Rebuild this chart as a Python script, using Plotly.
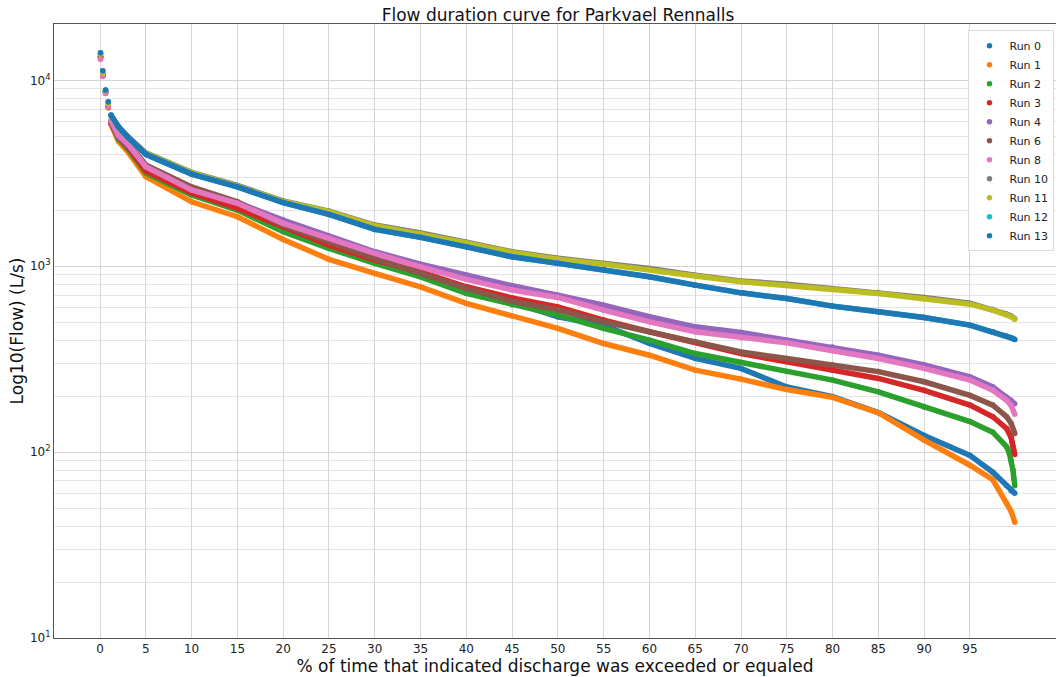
import plotly.graph_objects as go

# Percent of time exceeded (shared main points)
PCT_MAIN = [0.05, 0.3, 0.6, 0.9, 1.2, 2, 3, 5, 10, 15, 20, 25, 30, 35, 40, 45,
            50, 55, 60, 65, 70, 75, 80, 85, 90, 95, 97.5, 99]

RUN_NAMES = ["Run 0", "Run 1", "Run 2", "Run 3", "Run 4", "Run 6", "Run 8",
             "Run 10", "Run 11", "Run 12", "Run 13"]
RUN_COLORS = ["#1f77b4", "#ff7f0e", "#2ca02c", "#d62728", "#9467bd", "#8c564b",
              "#e377c2", "#7f7f7f", "#bcbd22", "#17becf", "#1f77b4"]

run0 = [13600, 10800, 8700, 7300, 6000, 4900, 4350, 3200, 2430, 2020, 1560, 1260, 1050, 900,
        740, 640, 535, 482, 384, 319, 282, 224, 199, 163, 123, 96, 78, 66]
run0_tail_pct = [99.5, 99.9]
run0_tail = [62, 60]

run1 = [12970, 10500, 8500, 7100, 5800, 4700, 4150, 3030, 2220, 1846, 1394, 1089, 915, 775,
        631, 540, 463, 384, 332, 276, 247, 217, 197, 163, 116, 85, 71, 53]
run1_tail_pct = [99.5, 99.9]
run1_tail = [48, 42]

run2 = [13300, 10600, 8600, 7200, 5900, 4850, 4300, 3170, 2415, 2005, 1531, 1247, 1036, 877,
        714, 620, 546, 463, 400, 339, 303, 271, 244, 211, 175, 146, 128, 107]
run2_tail_pct = [99.3, 99.5, 99.7, 99.8, 99.9]
run2_tail = [99, 90, 80, 72, 66]

run3 = [13300, 10600, 8600, 7200, 5900, 4950, 4400, 3250, 2480, 2048, 1630, 1297, 1080, 933,
        775, 675, 604, 513, 444, 390, 339, 306, 276, 249, 215, 179, 155, 134]
run3_tail_pct = [99.5, 99.6, 99.7, 99.8, 99.9]
run3_tail = [120, 113, 107, 101, 97]

run4 = [13400, 10700, 8600, 7200, 6000, 5000, 4500, 3450, 2600, 2200, 1770, 1452, 1196, 1026,
        896, 785, 698, 617, 535, 472, 440, 400, 368, 332, 294, 254, 224, 198]
run4_tail_pct = [99.5, 99.9]
run4_tail = [190, 182]

run6 = [13400, 10700, 8600, 7200, 6050, 5150, 4650, 3500, 2670, 2220, 1664, 1350, 1102, 915,
        759, 648, 582, 502, 446, 394, 346, 319, 294, 271, 239, 202, 179, 155]
run6_tail_pct = [99.5, 99.9]
run6_tail = [143, 126]

run8 = [13000, 10500, 8500, 7200, 6100, 5080, 4580, 3430, 2570, 2180, 1700, 1412, 1173, 993,
        849, 745, 679, 580, 502, 444, 412, 387, 351, 319, 282, 244, 215, 190]
run8_tail_pct = [99.5, 99.9]
run8_tail = [178, 160]

run10 = [13900, 11000, 8850, 7550, 6450, 5650, 5000, 4080, 3200, 2720, 2245, 1980, 1665, 1510,
         1345, 1198, 1103, 1037, 971, 895, 833, 800, 758, 722, 679, 632, 586, 552]
run10_tail_pct = [99.5, 99.9]
run10_tail = [540, 522]

run11 = [13800, 10900, 8800, 7500, 6400, 5620, 4970, 4050, 3180, 2700, 2230, 1965, 1650, 1495,
         1333, 1185, 1092, 1026, 961, 885, 824, 791, 750, 714, 671, 625, 580, 548]
run11_tail_pct = [99.5, 99.9]
run11_tail = [535, 518]

run12 = [14060, 11270, 8870, 7670, 6500, 5620, 4970, 4000, 3130, 2670, 2200, 1900, 1578, 1430,
         1271, 1124, 1036, 961, 877, 791, 719, 671, 610, 569, 530, 482, 444, 420]
run12_tail_pct = [99.5, 99.9]
run12_tail = [412, 403]

run13 = [14060, 11270, 8870, 7670, 6500, 5620, 4970, 4000, 3130, 2670, 2200, 1900, 1578, 1430,
         1271, 1124, 1036, 961, 877, 791, 719, 671, 610, 569, 530, 482, 444, 420]
run13_tail_pct = [99.5, 99.9]
run13_tail = [412, 403]

X_TICKS = list(range(0, 100, 5))
Y_TICKS = [10, 100, 1000, 10000]
Y_TICK_TEXT = ["10<sup>1</sup>", "10<sup>2</sup>", "10<sup>3</sup>", "10<sup>4</sup>"]
Y_MINOR = [m * 10 ** e for e in range(1, 5) for m in range(2, 10)]

series = [
    (run0, run0_tail_pct, run0_tail), (run1, run1_tail_pct, run1_tail),
    (run2, run2_tail_pct, run2_tail), (run3, run3_tail_pct, run3_tail),
    (run4, run4_tail_pct, run4_tail), (run6, run6_tail_pct, run6_tail),
    (run8, run8_tail_pct, run8_tail), (run10, run10_tail_pct, run10_tail),
    (run11, run11_tail_pct, run11_tail), (run12, run12_tail_pct, run12_tail),
    (run13, run13_tail_pct, run13_tail),
]

fig = go.Figure()
for name, color, (vals, tpct, tvals) in zip(RUN_NAMES, RUN_COLORS, series):
    xs = PCT_MAIN + tpct
    ys = vals + tvals
    fig.add_trace(go.Scatter(x=xs[4:], y=ys[4:], mode="lines", legendgroup=name,
                             showlegend=False, hoverinfo="skip",
                             line=dict(color=color, width=5.5)))
    fig.add_trace(go.Scatter(x=xs, y=ys, mode="markers", name=name, legendgroup=name,
                             marker=dict(color=color, size=5.5)))

fig.update_layout(
    width=1056, height=677,
    margin=dict(l=54, r=0, t=24, b=39),
    paper_bgcolor="white", plot_bgcolor="white",
    font=dict(family="DejaVu Sans", color="#222222", size=12),
    title=dict(text="Flow duration curve for Parkvael Rennalls", x=0.503, xref="paper",
               xanchor="center", y=0.978, yanchor="middle",
               font=dict(size=17, color="#111111")),
    showlegend=True,
    legend=dict(x=0.9985, y=0.99, xanchor="right", yanchor="top",
                bgcolor="rgba(255,255,255,0.9)", bordercolor="#dddddd", borderwidth=1,
                font=dict(size=11, color="#222222"),
                tracegroupgap=0, itemwidth=30),
)
fig.update_xaxes(
    range=[-5.03, 104.4], tickmode="array", tickvals=X_TICKS,
    showgrid=True, gridcolor="#d6d6d6", gridwidth=1, zeroline=False,
    showline=True, linecolor="#555555", linewidth=1, mirror=True, ticks="",
    tickfont=dict(size=12, color="#222222"),
    title=dict(text="% of time that indicated discharge was exceeded or equaled",
               font=dict(size=17, color="#111111"), standoff=0),
)
fig.update_yaxes(
    type="log", range=[1, 4.303], tickmode="array", tickvals=Y_TICKS, ticktext=Y_TICK_TEXT,
    showgrid=True, gridcolor="#d4d4d4", gridwidth=1, zeroline=False,
    showline=True, linecolor="#555555", linewidth=1, mirror=True, ticks="",
    tickfont=dict(size=12, color="#222222"),
    minor=dict(tickvals=Y_MINOR, showgrid=True, gridcolor="#e4e4e4", gridwidth=1, ticks=""),
    title=dict(text="Log10(Flow) (L/s)", font=dict(size=17, color="#111111"), standoff=2),
)

fig.write_html("out.html")
